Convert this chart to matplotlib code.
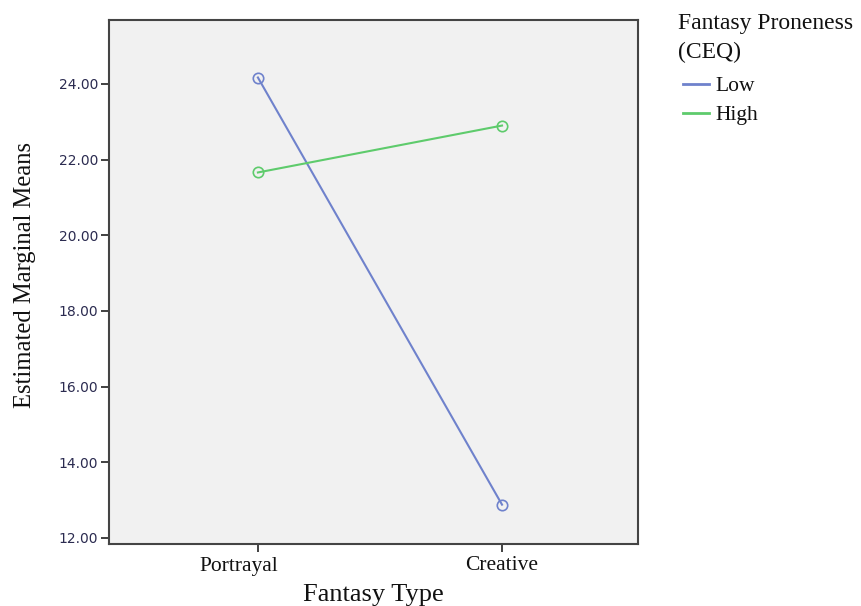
import matplotlib
matplotlib.use("Agg")
import matplotlib.pyplot as plt
import matplotlib.transforms as mtransforms

categories = ["Portrayal", "Creative"]
low_means = [24.17, 12.88]
high_means = [21.66, 22.90]
series_names = ["Low", "High"]
y_ticks = [12.0, 14.0, 16.0, 18.0, 20.0, 22.0, 24.0]
legend_title = "Fantasy Proneness\n(CEQ)"

serif = ["Liberation Serif", "DejaVu Serif"]

fig = plt.figure(figsize=(8.61, 6.06), dpi=100)
ax = fig.add_axes([109/861, 1-544/606, (638-109)/861, (544-20)/606])
ax.set_facecolor("#f1f1f1")

x = list(range(len(categories)))
colors = ["#6f82cc", "#5ecb6c"]
for vals, name, c in zip([low_means, high_means], series_names, colors):
    ax.plot(x, vals, color=c, lw=1.5, marker="o", markersize=7.5,
            markerfacecolor="none", markeredgecolor=c, markeredgewidth=1.2, label=name)

ax.set_xlim(-0.61, 1.557)
ax.set_ylim(11.84, 25.69)
ax.set_xticks(x)
ax.set_xticklabels(categories, fontfamily=serif, fontsize=15.5, color="#111111")
ax.set_yticks(y_ticks)
ax.set_yticklabels([f"{v:.2f}" for v in y_ticks], fontfamily="DejaVu Sans", fontsize=10, color="#2b2b50")
ax.tick_params(axis="both", direction="out", length=6, width=1.3, color="#333333")
ax.tick_params(axis="x", pad=3)
ax.tick_params(axis="y", pad=2)
for s in ax.spines.values():
    s.set_color("#444444")
    s.set_linewidth(1.5)

# first category label sits slightly left of its tick in the reference
lbl0 = ax.get_xticklabels()[0]
lbl0.set_transform(lbl0.get_transform() + mtransforms.ScaledTranslation(-19/100, 0, fig.dpi_scale_trans))

ax.set_xlabel("Fantasy Type", fontfamily=serif, fontsize=19, color="#111111", labelpad=6)
ax.set_ylabel("Estimated Marginal Means", fontfamily=serif, fontsize=17.7, color="#111111", labelpad=16)
ax.yaxis.label.set_y(0.513)

fig.text(678/861, 1-13.5/606, legend_title, ha="left", va="top", fontfamily=serif,
         fontsize=17, color="#111111", linespacing=1.45)
leg = fig.legend(loc="upper left", bbox_to_anchor=(666/861, 1-59/606), frameon=False,
                 prop={"family": serif, "size": 15.5},
                 handlelength=1.2, handletextpad=0.3, labelspacing=0.42, borderpad=0.3)
for t in leg.get_texts():
    t.set_color("#111111")
for h in leg.legend_handles:
    h.set_marker("")
    h.set_linewidth(2)

fig.savefig("out.png", dpi=100)
